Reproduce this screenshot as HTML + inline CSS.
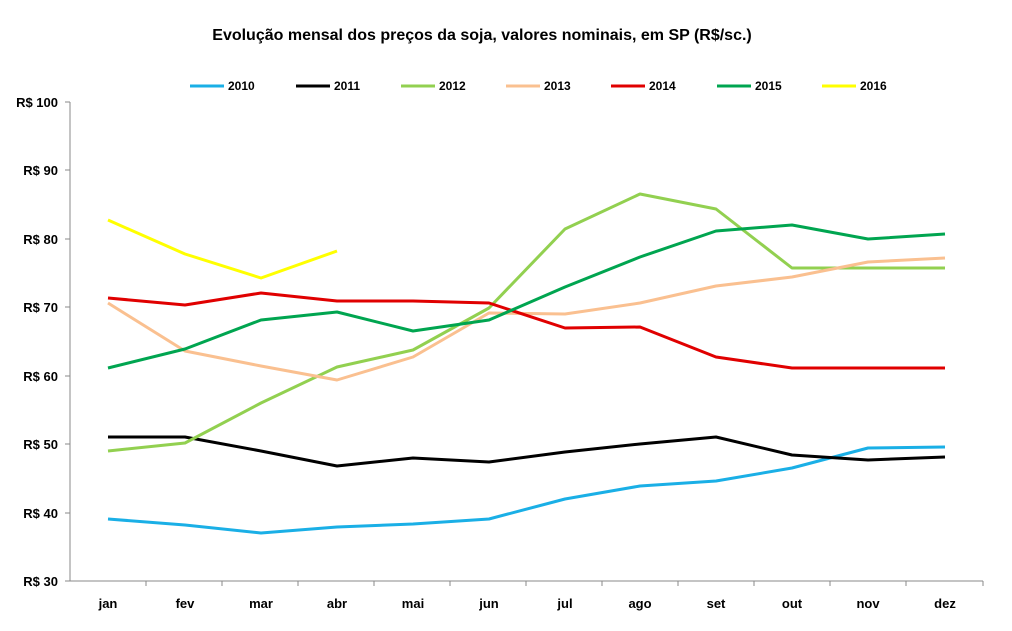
<!DOCTYPE html>
<html><head><meta charset="utf-8"><style>
html,body{margin:0;padding:0;background:#fff;}
svg{display:block;font-family:"Liberation Sans",Arial,sans-serif;font-weight:bold;}
</style></head><body>
<svg width="1012" height="631" viewBox="0 0 1012 631" xmlns="http://www.w3.org/2000/svg">
<text x="482" y="40" font-size="16" text-anchor="middle" fill="#000">Evolução mensal dos preços da soja, valores nominais, em SP (R$/sc.)</text>
<g font-size="12" fill="#000">
<line x1="190" y1="86" x2="224" y2="86" stroke="#1AAFE6" stroke-width="3"/><text x="228" y="90">2010</text>
<line x1="296" y1="86" x2="330" y2="86" stroke="#000" stroke-width="3"/><text x="334" y="90">2011</text>
<line x1="401" y1="86" x2="435" y2="86" stroke="#92D050" stroke-width="3"/><text x="439" y="90">2012</text>
<line x1="506" y1="86" x2="540" y2="86" stroke="#FAC090" stroke-width="3"/><text x="544" y="90">2013</text>
<line x1="611" y1="86" x2="645" y2="86" stroke="#E00000" stroke-width="3"/><text x="649" y="90">2014</text>
<line x1="717" y1="86" x2="751" y2="86" stroke="#00A550" stroke-width="3"/><text x="755" y="90">2015</text>
<line x1="822" y1="86" x2="856" y2="86" stroke="#FFFF00" stroke-width="3"/><text x="860" y="90">2016</text>
</g>
<g font-size="13" fill="#000" text-anchor="end">
<text x="58" y="107">R$ 100</text><text x="58" y="175">R$ 90</text><text x="58" y="244">R$ 80</text>
<text x="58" y="312">R$ 70</text><text x="58" y="381">R$ 60</text><text x="58" y="449">R$ 50</text>
<text x="58" y="518">R$ 40</text><text x="58" y="586">R$ 30</text>
</g>
<g stroke="#888" stroke-width="1">
<line x1="70" y1="102" x2="70" y2="581"/>
<line x1="70" y1="581" x2="983" y2="581"/>
<line x1="65" y1="102" x2="70" y2="102"/><line x1="65" y1="170" x2="70" y2="170"/><line x1="65" y1="239" x2="70" y2="239"/><line x1="65" y1="307" x2="70" y2="307"/><line x1="65" y1="376" x2="70" y2="376"/><line x1="65" y1="444" x2="70" y2="444"/><line x1="65" y1="513" x2="70" y2="513"/><line x1="65" y1="581" x2="70" y2="581"/>
<line x1="146" y1="581" x2="146" y2="586"/><line x1="222" y1="581" x2="222" y2="586"/><line x1="298" y1="581" x2="298" y2="586"/><line x1="374" y1="581" x2="374" y2="586"/><line x1="450" y1="581" x2="450" y2="586"/><line x1="526" y1="581" x2="526" y2="586"/><line x1="602" y1="581" x2="602" y2="586"/><line x1="678" y1="581" x2="678" y2="586"/><line x1="754" y1="581" x2="754" y2="586"/><line x1="830" y1="581" x2="830" y2="586"/><line x1="906" y1="581" x2="906" y2="586"/><line x1="983" y1="581" x2="983" y2="586"/>
</g>
<g font-size="13" fill="#000" text-anchor="middle">
<text x="108" y="608">jan</text><text x="185" y="608">fev</text><text x="261" y="608">mar</text><text x="337" y="608">abr</text>
<text x="413" y="608">mai</text><text x="489" y="608">jun</text><text x="565" y="608">jul</text><text x="640" y="608">ago</text>
<text x="716" y="608">set</text><text x="792" y="608">out</text><text x="868" y="608">nov</text><text x="945" y="608">dez</text>
</g>
<g fill="none" stroke-width="3" stroke-linejoin="round">
<polyline stroke="#1AAFE6" points="108,519 185,525 261,533 337,527 413,524 489,519 565,499 640,486 716,481 792,468 868,448 945,447"/>
<polyline stroke="#000" points="108,437 185,437 261,451 337,466 413,458 489,462 565,452 640,444 716,437 792,455 868,460 945,457"/>
<polyline stroke="#92D050" points="108,451 185,443 261,403 337,367 413,350 489,308 565,229 640,194 716,209 792,268 868,268 945,268"/>
<polyline stroke="#FAC090" points="108,303 185,351 261,366 337,380 413,357 489,313 565,314 640,303 716,286 792,277 868,262 945,258"/>
<polyline stroke="#E00000" points="108,298 185,305 261,293 337,301 413,301 489,303 565,328 640,327 716,357 792,368 868,368 945,368"/>
<polyline stroke="#00A550" points="108,368 185,349 261,320 337,312 413,331 489,320 565,287 640,257 716,231 792,225 868,239 945,234"/>
<polyline stroke="#FFFF00" points="108,220 185,254 261,278 337,251"/>
</g>
</svg>
</body></html>
